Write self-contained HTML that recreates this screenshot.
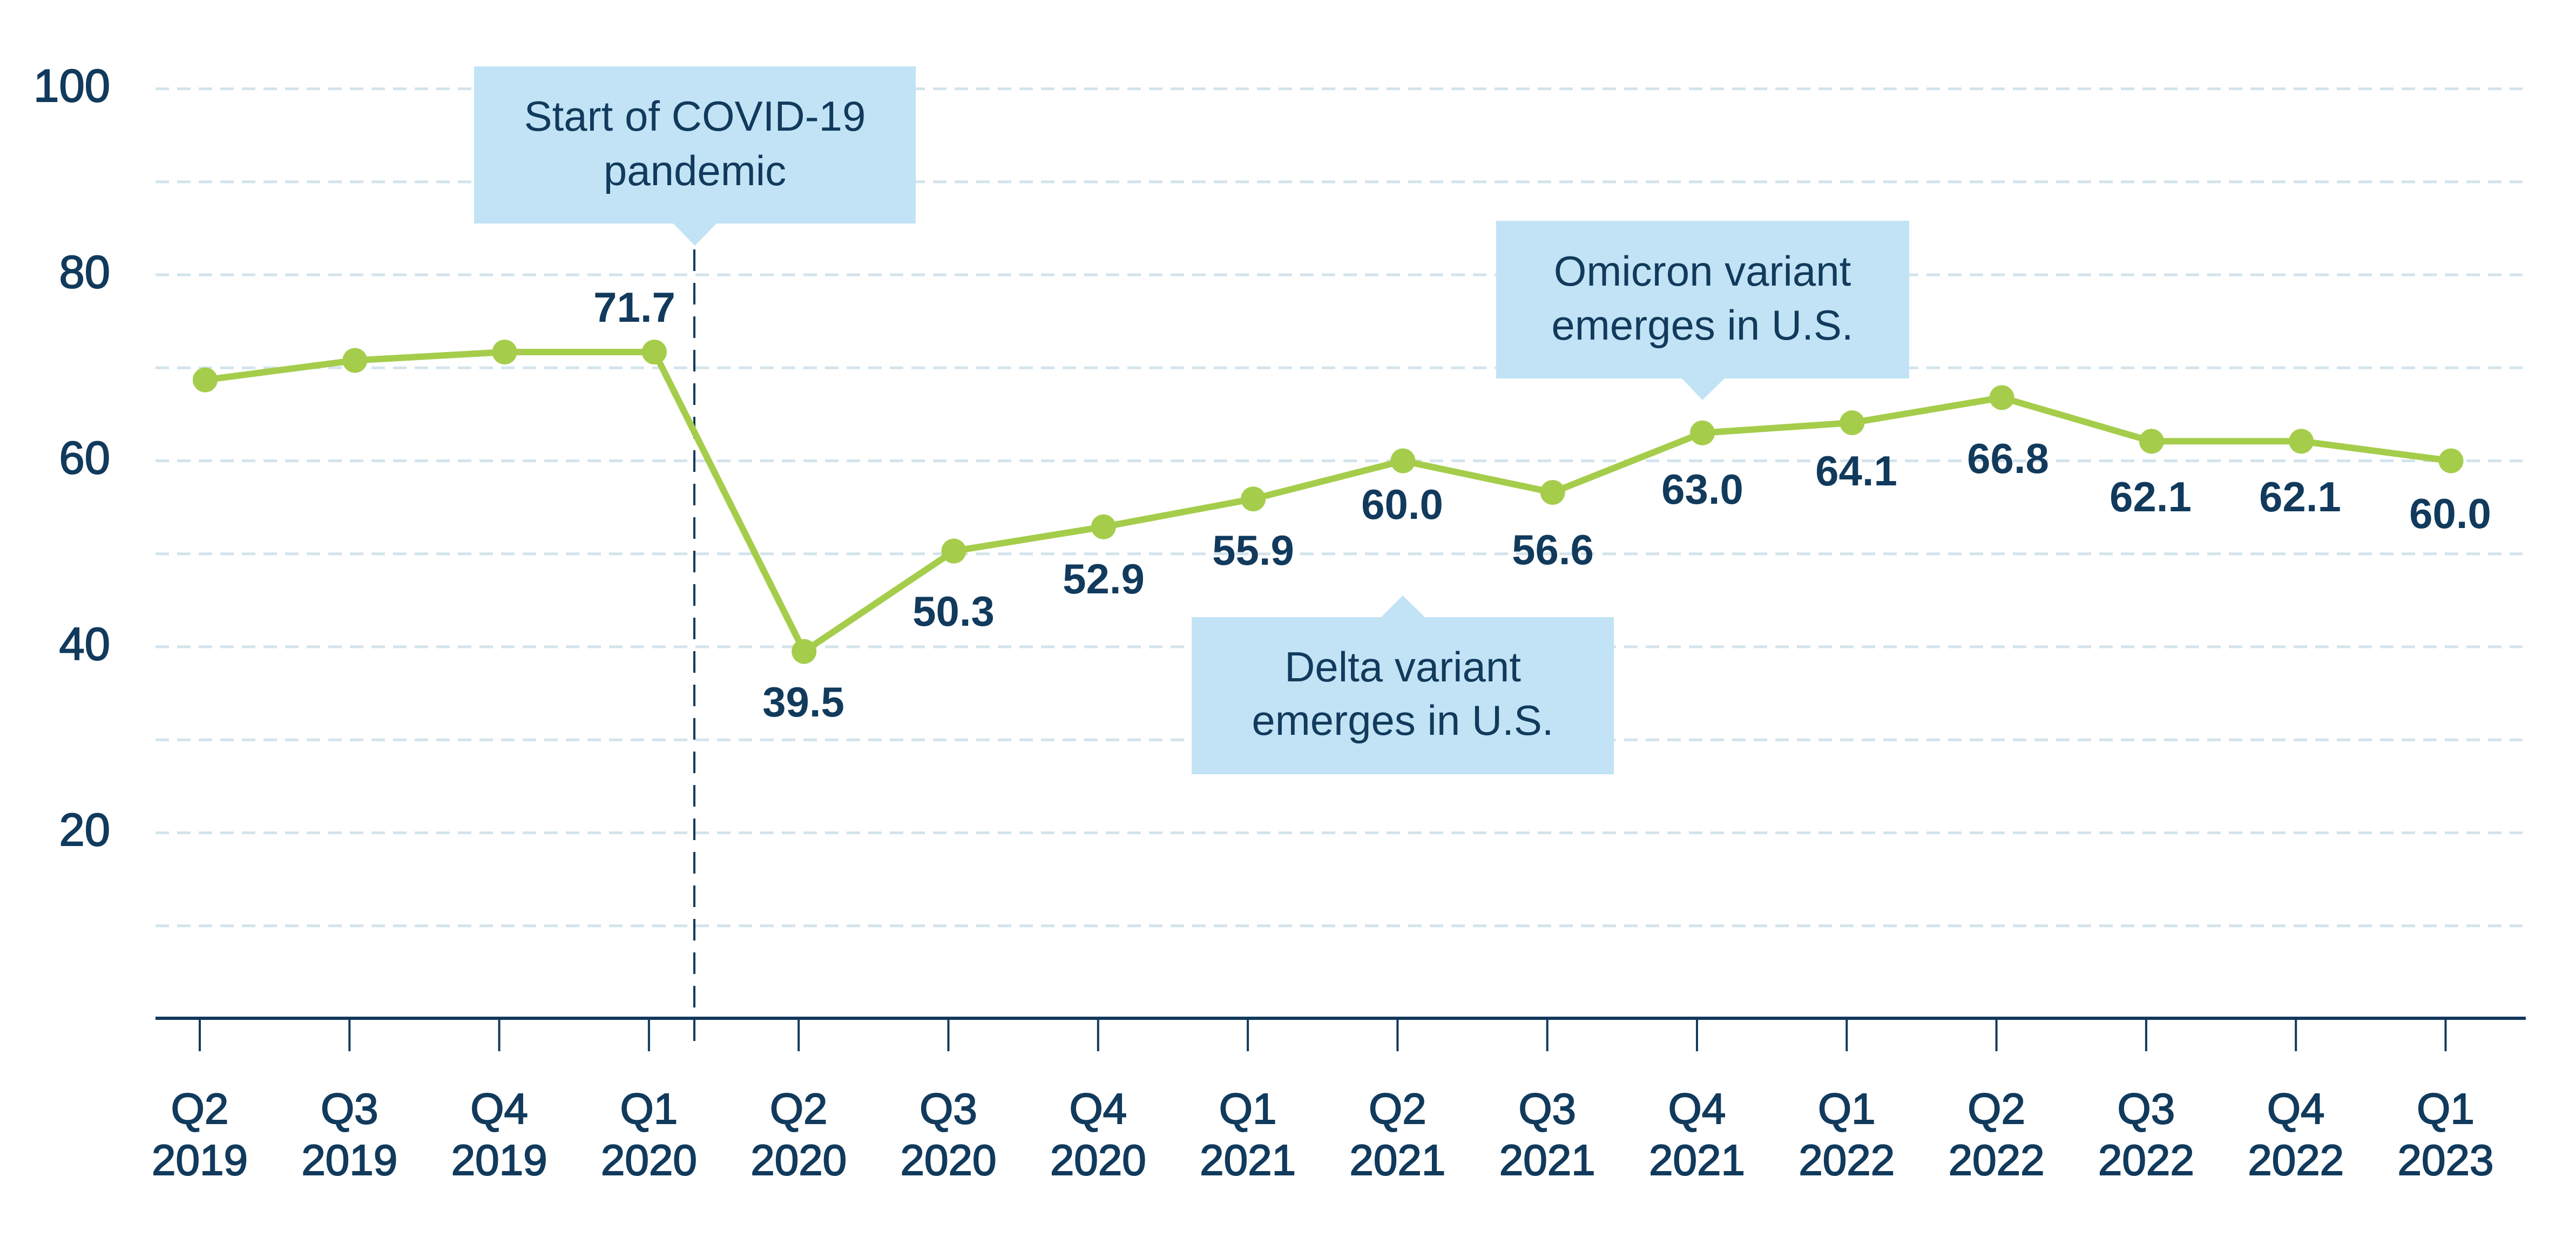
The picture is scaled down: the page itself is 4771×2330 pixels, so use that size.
<!DOCTYPE html>
<html><head><meta charset="utf-8"><style>
html,body{margin:0;padding:0;background:#fff;}
svg{display:block;}
text{font-family:"Liberation Sans",sans-serif;fill:#113a5c;}
</style></head><body>
<svg width="4771" height="2330" viewBox="0 0 4771 2330" xmlns="http://www.w3.org/2000/svg">
<g stroke="#d3e3ec" stroke-width="5" stroke-dasharray="25 15">
<line x1="288" y1="164.5" x2="4672" y2="164.5"/>
<line x1="288" y1="336.8" x2="4672" y2="336.8"/>
<line x1="288" y1="509" x2="4672" y2="509"/>
<line x1="288" y1="681.3" x2="4672" y2="681.3"/>
<line x1="288" y1="853.5" x2="4672" y2="853.5"/>
<line x1="288" y1="1025.8" x2="4672" y2="1025.8"/>
<line x1="288" y1="1198" x2="4672" y2="1198"/>
<line x1="288" y1="1370.3" x2="4672" y2="1370.3"/>
<line x1="288" y1="1542.5" x2="4672" y2="1542.5"/>
<line x1="288" y1="1714.8" x2="4672" y2="1714.8"/>
</g>
<g font-size="85" text-anchor="end" stroke="#113a5c" stroke-width="2">
<text x="204" y="188">100</text>
<text x="204" y="533">80</text>
<text x="204" y="877">60</text>
<text x="204" y="1222">40</text>
<text x="204" y="1566">20</text>
</g>
<g fill="#c1e3f5">
<rect x="878" y="123" width="818" height="291"/>
<polygon points="1246,413 1328,413 1287,455"/>
<rect x="2771" y="409" width="765" height="292"/>
<polygon points="3114,700 3195,700 3153,741"/>
<rect x="2207" y="1143" width="782" height="291"/>
<polygon points="2557,1144 2640,1144 2598,1103"/>
</g>
<g font-size="78" text-anchor="middle">
<text x="1287" y="242">Start of COVID-19</text>
<text x="1287" y="343">pandemic</text>
<text x="3153" y="529">Omicron variant</text>
<text x="3153" y="629">emerges in U.S.</text>
<text x="2598" y="1262">Delta variant</text>
<text x="2598" y="1361">emerges in U.S.</text>
</g>
<line x1="1286" y1="462" x2="1286" y2="1947" stroke="#113a5c" stroke-width="4" stroke-dasharray="40 22"/>
<line x1="288" y1="1886" x2="4678" y2="1886" stroke="#113a5c" stroke-width="6"/>
<g stroke="#113a5c" stroke-width="4">
<line x1="370" y1="1886" x2="370" y2="1947"/><line x1="647.3" y1="1886" x2="647.3" y2="1947"/>
<line x1="924.6" y1="1886" x2="924.6" y2="1947"/><line x1="1201.9" y1="1886" x2="1201.9" y2="1947"/>
<line x1="1479.2" y1="1886" x2="1479.2" y2="1947"/><line x1="1756.5" y1="1886" x2="1756.5" y2="1947"/>
<line x1="2033.8" y1="1886" x2="2033.8" y2="1947"/><line x1="2311.1" y1="1886" x2="2311.1" y2="1947"/>
<line x1="2588.4" y1="1886" x2="2588.4" y2="1947"/><line x1="2865.7" y1="1886" x2="2865.7" y2="1947"/>
<line x1="3143" y1="1886" x2="3143" y2="1947"/><line x1="3420.3" y1="1886" x2="3420.3" y2="1947"/>
<line x1="3697.6" y1="1886" x2="3697.6" y2="1947"/><line x1="3974.9" y1="1886" x2="3974.9" y2="1947"/>
<line x1="4252.2" y1="1886" x2="4252.2" y2="1947"/><line x1="4529.5" y1="1886" x2="4529.5" y2="1947"/>
</g>
<g font-size="80" text-anchor="middle" stroke="#113a5c" stroke-width="2">
<text x="370" y="2081">Q2</text><text x="370" y="2176">2019</text>
<text x="647.3" y="2081">Q3</text><text x="647.3" y="2176">2019</text>
<text x="924.6" y="2081">Q4</text><text x="924.6" y="2176">2019</text>
<text x="1201.9" y="2081">Q1</text><text x="1201.9" y="2176">2020</text>
<text x="1479.2" y="2081">Q2</text><text x="1479.2" y="2176">2020</text>
<text x="1756.5" y="2081">Q3</text><text x="1756.5" y="2176">2020</text>
<text x="2033.8" y="2081">Q4</text><text x="2033.8" y="2176">2020</text>
<text x="2311.1" y="2081">Q1</text><text x="2311.1" y="2176">2021</text>
<text x="2588.4" y="2081">Q2</text><text x="2588.4" y="2176">2021</text>
<text x="2865.7" y="2081">Q3</text><text x="2865.7" y="2176">2021</text>
<text x="3143" y="2081">Q4</text><text x="3143" y="2176">2021</text>
<text x="3420.3" y="2081">Q1</text><text x="3420.3" y="2176">2022</text>
<text x="3697.6" y="2081">Q2</text><text x="3697.6" y="2176">2022</text>
<text x="3974.9" y="2081">Q3</text><text x="3974.9" y="2176">2022</text>
<text x="4252.2" y="2081">Q4</text><text x="4252.2" y="2176">2022</text>
<text x="4529.5" y="2081">Q1</text><text x="4529.5" y="2176">2023</text>
</g>
<polyline fill="none" stroke="#a5cd4b" stroke-width="12" stroke-linejoin="round"
points="380,703.6 657.3,667.5 934.6,652 1211.9,652 1489.2,1206.6 1766.5,1020.6 2043.8,975.8 2321.1,924.1 2598.4,853.5 2875.7,912 3153,801.8 3430.3,783 3707.6,736.4 3984.9,817.3 4262.2,817.3 4539.5,853.5"/>
<g fill="#a5cd4b">
<circle cx="380" cy="703.6" r="23"/><circle cx="657.3" cy="667.5" r="23"/>
<circle cx="934.6" cy="652" r="23"/><circle cx="1211.9" cy="652" r="23"/>
<circle cx="1489.2" cy="1206.6" r="23"/><circle cx="1766.5" cy="1020.6" r="23"/>
<circle cx="2043.8" cy="975.8" r="23"/><circle cx="2321.1" cy="924.1" r="23"/>
<circle cx="2598.4" cy="853.5" r="23"/><circle cx="2875.7" cy="912" r="23"/>
<circle cx="3153" cy="801.8" r="23"/><circle cx="3430.3" cy="783" r="23"/>
<circle cx="3707.6" cy="736.4" r="23"/><circle cx="3984.9" cy="817.3" r="23"/>
<circle cx="4262.2" cy="817.3" r="23"/><circle cx="4539.5" cy="853.5" r="23"/>
</g>
<g font-size="78" font-weight="bold" text-anchor="middle">
<text x="1175" y="596">71.7</text>
<text x="1488" y="1327">39.5</text>
<text x="1766" y="1159">50.3</text>
<text x="2044" y="1099">52.9</text>
<text x="2321" y="1046">55.9</text>
<text x="2597" y="961">60.0</text>
<text x="2876" y="1045">56.6</text>
<text x="3153" y="933">63.0</text>
<text x="3438" y="899">64.1</text>
<text x="3719" y="876">66.8</text>
<text x="3983" y="947">62.1</text>
<text x="4260" y="947">62.1</text>
<text x="4538" y="978">60.0</text>
</g>
</svg>
</body></html>
